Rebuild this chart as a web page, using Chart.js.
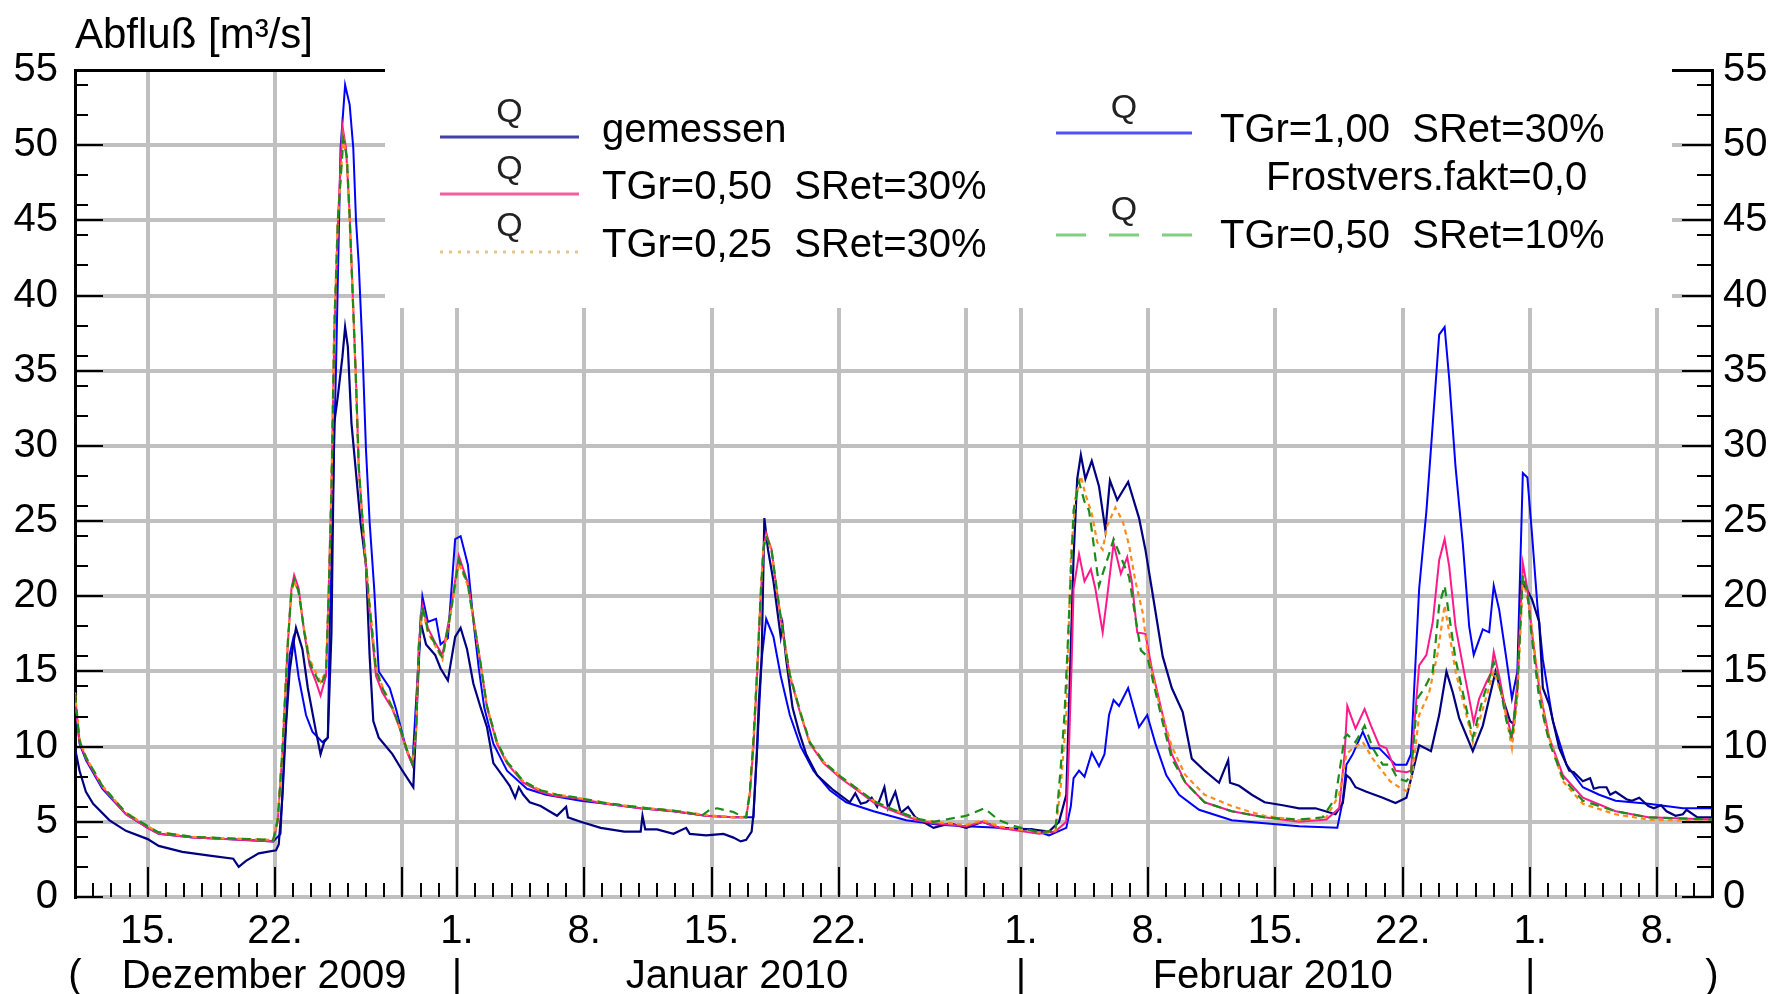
<!DOCTYPE html>
<html>
<head>
<meta charset="utf-8">
<script src="https://cdn.jsdelivr.net/npm/chart.js"></script>
<style>
  html, body { margin: 0; padding: 0; background: #fff; }
  canvas { display: block; }
</style>
</head>
<body>
<canvas id="abfluss" width="1780" height="994"></canvas>
<script>
// x = Tage seit 1. Dezember 2009 (10 = 11. Dez., 31 = 1. Jan., 62 = 1. Feb., 90 = 1. Mär.)
const gridDays = [14, 21, 28, 31, 38, 45, 52, 59, 62, 69, 76, 83, 90, 97];
const dayLabels = ['15.', '22.', '', '1.', '8.', '15.', '22.', '', '1.', '8.', '15.', '22.', '1.', '8.'];
const monthPos = [10, 20.4, 31, 46.4, 62, 75.85, 90, 100];
const monthLabels = ['(', 'Dezember 2009', '|', 'Januar 2010', '|', 'Februar 2010', '|', ')'];
const yTicks = [0, 5, 10, 15, 20, 25, 30, 35, 40, 45, 50, 55];

const legendLabels = ['gemessen', 'TGr=0,50  SRet=30%', 'TGr=0,25  SRet=30%', 'TGr=1,00  SRet=30%', 'TGr=0,50  SRet=10%'];
const legendNote = 'Frostvers.fakt=0,0';

const gemessen = [
  [10.0, 9.9], [10.25, 8.4], [10.6, 7.0], [11.0, 6.2], [11.9, 5.1], [12.8, 4.4], [14.0, 3.85], [14.6, 3.4],
  [15.9, 3.0], [17.4, 2.75], [18.7, 2.55], [19.0, 2.0], [19.4, 2.4], [20.1, 2.9], [21.05, 3.1], [21.2, 3.5],
  [21.4, 6.6], [21.6, 11.4], [21.8, 15.0], [22.0, 16.8], [22.15, 17.9], [22.5, 16.5], [22.8, 13.9], [23.25, 11.0],
  [23.5, 9.5], [23.7, 10.3], [23.9, 10.6], [24.1, 17.6], [24.25, 31.5], [24.45, 33.3], [24.7, 35.9], [24.85, 37.9],
  [25.0, 36.6], [25.2, 31.5], [25.45, 28.2], [25.7, 24.9], [26.0, 22.0], [26.2, 16.0], [26.4, 11.7], [26.7, 10.6],
  [27.45, 9.5], [28.0, 8.4], [28.6, 7.3], [28.75, 11.4], [29.0, 18.3], [29.3, 16.8], [29.8, 16.1], [30.1, 15.2],
  [30.5, 14.4], [30.9, 17.3], [31.2, 17.9], [31.55, 16.5], [31.9, 14.2], [32.3, 12.6], [32.65, 11.3], [33.0, 8.9],
  [33.6, 7.9], [33.9, 7.4], [34.2, 6.6], [34.4, 7.3], [34.65, 6.8], [35.0, 6.3], [35.6, 6.05], [36.5, 5.4],
  [37.0, 6.0], [37.1, 5.3], [37.8, 5.0], [38.9, 4.6], [40.2, 4.35], [41.1, 4.35], [41.2, 5.4], [41.35, 4.5],
  [42.0, 4.5], [42.9, 4.2], [43.6, 4.6], [43.8, 4.2], [44.7, 4.1], [45.65, 4.2], [46.2, 3.95], [46.6, 3.7],
  [46.9, 3.8], [47.2, 4.35], [47.3, 5.5], [47.5, 10.0], [47.6, 13.1], [47.75, 15.8], [47.9, 25.2], [48.1, 23.1],
  [48.4, 21.0], [48.8, 17.3], [48.9, 18.1], [49.1, 15.8], [49.45, 12.6], [49.8, 11.0], [50.2, 9.5], [50.8, 8.1],
  [51.7, 7.1], [52.6, 6.3], [52.9, 6.9], [53.2, 6.2], [53.5, 6.3], [53.8, 6.6], [54.1, 6.0], [54.5, 7.3],
  [54.7, 5.9], [55.1, 7.0], [55.4, 5.6], [55.8, 6.0], [56.2, 5.3],
  [57.2, 4.6], [58.1, 4.9], [59.0, 4.6], [59.9, 5.0], [60.8, 4.6], [61.7, 4.5], [62.6, 4.5], [63.55, 4.35],
  [64.1, 5.0], [64.5, 6.8], [64.7, 14.7], [64.9, 22.6], [65.1, 27.8], [65.3, 29.4], [65.55, 27.8], [65.9, 29.0],
  [66.3, 27.3], [66.65, 24.4], [66.9, 27.7], [67.3, 26.4], [67.9, 27.6], [68.5, 25.2], [68.85, 23.1], [69.2, 20.5],
  [69.8, 16.0], [70.3, 13.9], [70.9, 12.3], [71.4, 9.2], [72.1, 8.4], [72.9, 7.6], [73.4, 9.1], [73.5, 7.6],
  [74.0, 7.4], [74.7, 6.8], [75.4, 6.3], [76.4, 6.1], [77.3, 5.9], [78.2, 5.9], [79.3, 5.5], [79.7, 6.25],
  [79.9, 8.1], [80.1, 7.9], [80.4, 7.3], [81.0, 7.0], [81.9, 6.6], [82.6, 6.25], [83.2, 6.6], [83.5, 8.1],
  [83.9, 10.1], [84.55, 9.7], [85.0, 12.1], [85.4, 15.0], [85.75, 13.6], [86.1, 11.9], [86.85, 9.7], [87.4, 11.4],
  [87.75, 13.2], [88.1, 15.0], [88.5, 13.2], [88.9, 11.7], [89.1, 11.5], [89.3, 13.9], [89.5, 20.9], [89.8, 20.5],
  [90.1, 19.8], [90.5, 18.3], [90.7, 13.9], [91.05, 12.8], [91.6, 9.9], [92.15, 8.4], [92.4, 8.3], [92.9, 7.7],
  [93.3, 7.9], [93.5, 7.2], [93.8, 7.3], [94.2, 7.3], [94.4, 6.8], [94.7, 7.0], [95.3, 6.5], [95.6, 6.4],
  [96.0, 6.6], [96.5, 6.05], [96.8, 5.9], [97.2, 6.1], [97.5, 5.7], [98.0, 5.4], [98.4, 5.5], [98.6, 5.8],
  [99.2, 5.3], [100, 5.3]
];

const tgr050sret30 = [
  [10.0, 13.4], [10.25, 10.3], [10.6, 9.2], [11.5, 7.3], [12.8, 5.5], [14.0, 4.6], [14.6, 4.2], [16.5, 3.95],
  [18.3, 3.85], [20.9, 3.7], [21.15, 5.1], [21.4, 9.5], [21.7, 16.8], [21.9, 20.5], [22.05, 21.4], [22.3, 20.5],
  [22.6, 17.6], [22.9, 15.4], [23.25, 14.3], [23.5, 13.4], [23.8, 14.7], [23.95, 20.5], [24.1, 27.1], [24.25, 37.0],
  [24.45, 44.7], [24.7, 51.3], [24.9, 49.8], [25.1, 45.4], [25.25, 40.7], [25.45, 34.4], [25.6, 28.6], [25.9, 23.4],
  [26.2, 19.0], [26.55, 14.7], [26.9, 13.6], [27.45, 12.5], [27.8, 11.4], [28.3, 9.5], [28.55, 8.8], [28.75, 11.0],
  [28.9, 16.8], [29.1, 19.4], [29.4, 17.9], [29.85, 16.8], [30.2, 16.1], [30.65, 19.0], [31.1, 22.7], [31.6, 20.9],
  [31.9, 18.6], [32.3, 15.5], [32.65, 12.6], [33.2, 10.2], [33.75, 8.9], [34.65, 7.6], [35.6, 7.0], [36.5, 6.7],
  [37.4, 6.6], [39.2, 6.2], [41.1, 5.9], [42.9, 5.7], [44.7, 5.4], [46.2, 5.3], [46.9, 5.3], [47.1, 6.8],
  [47.3, 10.0], [47.5, 14.7], [47.7, 20.0], [47.85, 23.1], [48.0, 24.2], [48.3, 23.1], [48.6, 20.2], [48.95, 17.3],
  [49.3, 14.7], [49.9, 12.1], [50.4, 10.2], [51.15, 8.9], [52.1, 7.9], [53.0, 7.1], [53.9, 6.3], [54.8, 5.8],
  [56.3, 5.1], [57.2, 4.9], [59.0, 4.7], [59.9, 5.0], [60.8, 4.6], [63.0, 4.2], [63.9, 4.35], [64.5, 5.0],
  [64.65, 10.0], [64.8, 15.8], [64.9, 20.5], [65.2, 22.8], [65.5, 21.0], [65.85, 21.8], [66.1, 20.5], [66.5, 17.6],
  [66.75, 20.0], [67.1, 23.5], [67.5, 21.5], [67.85, 22.6], [68.1, 21.0], [68.4, 17.6], [68.85, 17.5], [69.2, 15.2],
  [69.8, 12.1], [70.3, 9.5], [71.05, 7.6], [72.1, 6.3], [73.6, 5.7], [75.4, 5.3], [77.3, 5.0], [78.8, 5.15],
  [79.5, 5.9], [79.8, 9.5], [79.95, 12.7], [80.25, 11.7], [80.4, 11.2], [80.9, 12.5], [81.25, 11.4], [81.7, 10.1],
  [82.1, 9.9], [82.6, 8.4], [83.2, 8.3], [83.45, 8.4], [83.6, 11.0], [83.9, 15.4], [84.3, 16.1], [84.65, 18.3],
  [85.0, 22.4], [85.3, 23.8], [85.55, 22.0], [85.9, 18.0], [86.3, 15.4], [86.65, 13.2], [86.9, 11.6], [87.2, 13.2],
  [87.6, 14.3], [87.85, 14.9], [88.0, 16.3], [88.3, 14.7], [88.7, 12.1], [89.0, 10.6], [89.3, 14.3], [89.6, 22.2],
  [89.85, 20.5], [90.1, 17.6], [90.5, 13.9], [91.05, 10.6], [91.8, 8.1], [92.9, 6.6], [94.7, 5.7], [96.5, 5.3],
  [100, 5.15]
];

const tgr025sret30 = [
  [10.0, 13.6], [10.25, 10.5], [10.6, 9.3], [11.5, 7.4], [12.8, 5.6], [14.0, 4.7], [14.6, 4.3], [16.5, 4.0],
  [18.3, 3.9], [20.9, 3.8], [21.15, 5.3], [21.4, 9.8], [21.7, 17.0], [21.9, 20.3], [22.05, 21.0], [22.3, 20.2],
  [22.6, 17.8], [22.9, 15.8], [23.25, 14.9], [23.5, 14.3], [23.8, 15.0], [23.95, 20.0], [24.1, 27.5], [24.25, 38.0],
  [24.45, 45.0], [24.75, 50.5], [24.95, 49.0], [25.1, 45.0], [25.25, 40.5], [25.45, 34.0], [25.6, 28.5], [25.9, 23.5],
  [26.2, 19.5], [26.55, 15.3], [26.9, 14.0], [27.45, 12.6], [27.8, 11.5], [28.3, 9.6], [28.55, 8.9], [28.75, 11.0],
  [28.9, 16.5], [29.1, 19.2], [29.4, 17.6], [29.85, 16.6], [30.2, 15.8], [30.65, 18.8], [31.1, 22.2], [31.6, 20.7],
  [31.9, 18.5], [32.3, 15.5], [32.65, 12.7], [33.2, 10.3], [33.75, 9.0], [34.65, 7.7], [35.6, 7.1], [36.5, 6.8],
  [37.4, 6.65], [39.2, 6.25], [41.1, 5.95], [42.9, 5.75], [44.7, 5.45], [46.2, 5.3], [46.9, 5.3], [47.1, 7.0],
  [47.3, 10.5], [47.5, 15.0], [47.7, 20.3], [47.85, 23.3], [48.0, 24.0], [48.3, 23.0], [48.6, 20.3], [48.95, 17.4],
  [49.3, 14.8], [49.9, 12.2], [50.4, 10.3], [51.15, 9.0], [52.1, 8.0], [53.0, 7.2], [53.9, 6.4], [54.8, 5.9],
  [56.3, 5.2], [57.2, 5.0], [59.0, 4.8], [59.9, 5.1], [60.8, 4.7], [63.0, 4.3], [63.9, 4.4], [64.2, 7.4],
  [64.5, 12.1], [64.75, 22.6], [65.0, 26.5], [65.3, 28.0], [65.55, 26.8], [65.9, 25.5], [66.2, 23.6], [66.5, 23.1],
  [66.75, 24.7], [67.2, 25.9], [67.6, 25.0], [67.95, 23.4], [68.3, 21.0], [68.7, 18.9], [69.0, 16.0], [69.6, 12.9],
  [70.3, 10.0], [71.05, 8.1], [72.1, 6.8], [73.6, 6.05], [74.5, 5.7], [75.4, 5.4], [77.3, 5.1], [78.8, 5.3],
  [79.5, 6.8], [79.9, 9.5], [80.25, 9.9], [80.8, 10.3], [81.35, 9.2], [82.3, 7.7], [82.8, 7.3], [83.3, 7.0],
  [83.55, 8.4], [83.9, 12.1], [84.45, 13.6], [84.9, 16.1], [85.3, 19.4], [85.55, 17.6], [85.9, 15.0], [86.5, 12.1],
  [86.85, 10.3], [87.4, 12.5], [88.0, 15.0], [88.5, 13.2], [89.0, 9.9], [89.3, 13.2], [89.6, 21.1], [89.95, 19.4],
  [90.3, 15.8], [90.85, 11.4], [91.8, 7.7], [92.9, 6.2], [94.7, 5.5], [96.5, 5.15], [100, 5.0]
];

const tgr100sret30 = [
  [10.0, 13.0], [10.25, 10.2], [10.6, 9.1], [11.5, 7.2], [12.8, 5.5], [14.0, 4.6], [14.6, 4.2], [16.5, 3.95],
  [18.3, 3.85], [20.9, 3.7], [21.3, 4.2], [21.5, 9.5], [21.8, 16.1], [22.0, 17.2], [22.3, 14.6], [22.7, 12.1],
  [23.05, 11.0], [23.6, 10.3], [23.9, 10.6], [24.0, 17.6], [24.35, 35.2], [24.6, 49.8], [24.85, 54.0], [25.1, 52.7],
  [25.3, 49.8], [25.45, 45.0], [25.6, 42.1], [25.8, 36.6], [26.0, 29.7], [26.2, 24.9], [26.45, 20.5], [26.7, 15.0],
  [27.3, 13.9], [27.65, 12.5], [28.2, 9.9], [28.55, 8.8], [28.85, 15.0], [29.1, 20.0], [29.4, 18.3], [29.85, 18.5],
  [30.1, 16.8], [30.5, 17.2], [30.9, 23.8], [31.2, 24.0], [31.6, 22.1], [31.9, 18.4], [32.2, 15.2], [32.5, 12.6],
  [33.0, 10.2], [33.75, 8.4], [34.85, 7.2], [35.9, 6.8], [37.8, 6.4], [39.2, 6.2], [41.1, 5.9], [42.9, 5.7],
  [44.7, 5.4], [46.2, 5.3], [47.3, 5.3], [47.5, 9.7], [47.75, 15.8], [48.0, 18.5], [48.4, 17.3], [48.8, 14.7],
  [49.3, 12.1], [49.9, 10.0], [50.6, 8.4], [51.5, 7.1], [52.4, 6.3], [53.9, 5.7], [55.7, 5.1], [57.5, 4.8],
  [59.0, 4.7], [62.6, 4.5], [63.55, 4.1], [64.5, 4.6], [64.75, 6.05], [64.9, 7.9], [65.2, 8.4], [65.5, 8.0],
  [65.9, 9.6], [66.3, 8.7], [66.6, 9.5], [66.85, 12.1], [67.1, 13.1], [67.4, 12.7], [67.9, 13.9], [68.5, 11.3],
  [68.95, 12.1], [69.4, 10.2], [70.0, 8.1], [70.7, 6.8], [71.8, 5.8], [73.6, 5.1], [75.4, 4.9], [77.3, 4.7],
  [79.4, 4.6], [79.7, 6.4], [79.9, 8.8], [80.25, 9.5], [80.8, 11.0], [81.2, 9.9], [81.7, 9.9], [82.6, 8.8],
  [83.2, 8.8], [83.45, 9.5], [83.6, 13.2], [83.9, 20.5], [84.3, 25.7], [84.65, 31.5], [85.0, 37.4], [85.3, 37.9],
  [85.55, 34.5], [85.9, 28.6], [86.3, 23.5], [86.65, 18.0], [86.9, 16.1], [87.4, 17.8], [87.75, 17.6], [88.0, 20.7],
  [88.3, 19.1], [88.7, 15.8], [89.0, 13.2], [89.3, 15.0], [89.6, 28.2], [89.85, 27.9], [90.1, 24.2], [90.4, 19.4],
  [90.7, 15.8], [91.25, 11.7], [92.0, 8.8], [92.9, 7.3], [93.8, 6.8], [94.7, 6.4], [96.5, 6.2], [98.4, 5.9],
  [100, 5.9]
];

const tgr050sret10 = [
  [10.0, 13.5], [10.25, 10.4], [10.6, 9.3], [11.5, 7.4], [12.8, 5.6], [14.0, 4.7], [14.6, 4.3], [16.5, 4.0],
  [18.3, 3.9], [20.9, 3.8], [21.15, 5.2], [21.4, 9.7], [21.7, 16.9], [21.9, 20.4], [22.05, 21.1], [22.3, 20.3],
  [22.6, 17.7], [22.9, 15.6], [23.25, 14.7], [23.5, 14.1], [23.8, 14.9], [23.95, 20.2], [24.1, 27.3], [24.25, 37.5],
  [24.45, 45.0], [24.75, 50.4], [24.95, 49.2], [25.1, 45.2], [25.25, 40.6], [25.45, 34.2], [25.6, 28.6], [25.9, 23.5],
  [26.2, 19.3], [26.55, 15.1], [26.9, 13.9], [27.45, 12.6], [27.8, 11.5], [28.3, 9.6], [28.55, 8.9], [28.75, 11.0],
  [28.9, 16.6], [29.1, 19.3], [29.4, 17.7], [29.85, 16.7], [30.2, 15.9], [30.65, 18.9], [31.1, 22.4], [31.6, 20.8],
  [31.9, 18.5], [32.3, 15.5], [32.65, 12.7], [33.2, 10.3], [33.75, 9.0], [34.65, 7.7], [35.6, 7.1], [36.5, 6.8],
  [37.4, 6.65], [39.2, 6.25], [41.1, 5.95], [42.9, 5.75], [44.5, 5.45], [44.9, 5.8], [45.3, 5.9], [46.2, 5.65],
  [46.6, 5.4], [46.9, 5.3], [47.1, 7.0], [47.3, 10.4], [47.5, 15.0], [47.7, 20.2], [47.85, 23.2], [48.0, 24.0],
  [48.3, 23.0], [48.6, 20.3], [48.95, 17.4], [49.3, 14.8], [49.9, 12.2], [50.4, 10.3], [51.15, 9.0], [52.1, 8.0],
  [53.0, 7.2], [53.9, 6.4], [54.8, 5.9], [56.3, 5.2], [57.2, 5.0], [59.0, 5.4], [60.0, 5.9], [60.8, 5.1],
  [61.7, 4.7], [63.0, 4.3], [63.9, 4.4], [64.2, 8.7], [64.4, 12.1], [64.55, 16.0], [64.75, 21.5], [64.9, 25.7],
  [65.2, 27.6], [65.5, 26.3], [65.75, 25.7], [65.9, 24.4], [66.3, 20.7], [66.5, 21.5], [66.85, 22.8], [67.1, 23.8],
  [67.5, 22.6], [67.95, 21.3], [68.3, 18.6], [68.6, 16.4], [68.95, 16.0], [69.2, 14.7], [69.8, 11.6], [70.3, 9.2],
  [71.05, 7.6], [72.1, 6.3], [73.6, 5.7], [75.4, 5.3], [77.3, 5.15], [78.6, 5.3], [79.3, 6.6], [79.8, 10.6],
  [79.95, 10.8], [80.4, 10.3], [80.9, 11.4], [81.35, 9.9], [81.9, 8.8], [82.3, 8.8], [82.7, 7.9], [83.2, 7.7],
  [83.45, 8.1], [83.6, 10.3], [83.8, 13.2], [84.2, 13.9], [84.65, 15.0], [85.0, 19.4], [85.3, 20.7], [85.55, 18.7],
  [85.9, 15.8], [86.5, 12.5], [86.85, 10.6], [87.4, 13.2], [87.75, 14.5], [88.0, 15.6], [88.3, 14.3], [88.7, 11.7],
  [89.0, 10.5], [89.3, 13.9], [89.6, 21.4], [89.85, 20.2], [90.1, 17.2], [90.5, 13.2], [91.05, 10.3], [91.8, 7.9],
  [92.9, 6.4], [94.7, 5.7], [96.5, 5.3], [100, 5.15]
];

const FONT = "'Liberation Sans', Arial, sans-serif";

function linie(label, data, color, width, dash, order) {
  return {
    label: label, data: data, borderColor: color, borderWidth: width, borderDash: dash,
    pointRadius: 0, tension: 0, fill: false, order: order, xAxisID: 'x', yAxisID: 'y'
  };
}

// Legende, Achsentitel und kleine Achsenstriche
const beiwerk = {
  id: 'beiwerk',
  beforeDatasetsDraw(chart) {
    const ctx = chart.ctx;
    ctx.save();
    ctx.fillStyle = '#fff';
    ctx.fillRect(385, 20, 1672 - 385, 308 - 20);
    ctx.restore();
  },
  afterDraw(chart) {
    const { ctx, chartArea: a } = chart;
    const x = chart.scales.x, y = chart.scales.y;
    ctx.save();

    // Striche an den y-Achsen
    ctx.strokeStyle = '#000';
    ctx.lineWidth = 2;
    ctx.beginPath();
    for (let v = 0; v <= 55; v++) {
      if (v % 5 !== 0 && v % 2 !== 0) continue;
      const len = v % 5 === 0 ? 28 : 13;
      const py = Math.round(y.getPixelForValue(v));
      ctx.moveTo(a.left, py); ctx.lineTo(a.left + len, py);
      ctx.moveTo(a.right, py); ctx.lineTo(a.right - len - 2, py);
    }
    // Tagesstriche an der x-Achse
    for (let d = 11; d < 100; d++) {
      const len = gridDays.includes(d) ? 30 : 14;
      const px = Math.round(x.getPixelForValue(d));
      ctx.moveTo(px, a.bottom); ctx.lineTo(px, a.bottom - len);
    }
    ctx.stroke();

    // Achsentitel
    ctx.fillStyle = '#000';
    ctx.font = '42px ' + FONT;
    ctx.textBaseline = 'alphabetic';
    ctx.textAlign = 'left';
    ctx.fillText('Abfluß [m³/s]', a.left, 48);

    // Legende
    const eintraege = [
      { x0: 440, x1: 579, ly: 137, qy: 113, tx: 602, ty: 131, color: '#4040a8', dash: [] },
      { x0: 440, x1: 579, ly: 194, qy: 170, tx: 602, ty: 188, color: '#f0609f', dash: [] },
      { x0: 440, x1: 579, ly: 252, qy: 227, tx: 602, ty: 246, color: '#e6c48c', dash: [3, 6] },
      { x0: 1056, x1: 1192, ly: 133, qy: 109, tx: 1220, ty: 131, color: '#5050ff', dash: [] },
      { x0: 1056, x1: 1192, ly: 235, qy: 211, tx: 1220, ty: 237, color: '#80d080', dash: [30, 23] }
    ];
    eintraege.forEach((e, i) => {
      ctx.strokeStyle = e.color;
      ctx.lineWidth = 3;
      ctx.setLineDash(e.dash);
      ctx.beginPath();
      ctx.moveTo(e.x0, e.ly); ctx.lineTo(e.x1, e.ly);
      ctx.stroke();
      ctx.setLineDash([]);
      ctx.fillStyle = '#222';
      ctx.font = '34px ' + FONT;
      ctx.textAlign = 'center';
      ctx.textBaseline = 'middle';
      ctx.fillText('Q', (e.x0 + e.x1) / 2, e.qy);
      ctx.fillStyle = '#000';
      ctx.font = '40px ' + FONT;
      ctx.textAlign = 'left';
      ctx.fillText(legendLabels[i], e.tx, e.ty);
    });
    ctx.fillText(legendNote, 1266, 179);

    ctx.restore();
  }
};

new Chart(document.getElementById('abfluss').getContext('2d'), {
  type: 'line',
  data: {
    datasets: [
      linie(legendLabels[0], gemessen, '#000080', 2.2, [], 4),
      linie(legendLabels[1], tgr050sret30, '#ff1a8c', 2, [], 3),
      linie(legendLabels[2], tgr025sret30, '#ff8c1a', 2.2, [5, 4], 2),
      linie(legendLabels[3], tgr100sret30, '#0000ff', 2, [], 5),
      linie(legendLabels[4], tgr050sret10, '#1a8c1a', 2.2, [9, 6], 1)
    ]
  },
  options: {
    responsive: false,
    devicePixelRatio: 1,
    animation: false,
    layout: { padding: { top: 70, left: 0, right: 0, bottom: 0 } },
    font: { family: FONT },
    plugins: {
      legend: { display: false },
      tooltip: { enabled: false },
      title: { display: false }
    },
    scales: {
      x: {
        type: 'linear', position: 'bottom', min: 10, max: 100, weight: 0,
        afterBuildTicks: ax => { ax.ticks = gridDays.map(v => ({ value: v })); },
        afterFit: ax => { ax.height = 56; },
        ticks: {
          autoSkip: false, maxRotation: 0, minRotation: 0, padding: 11, color: '#000',
          font: { family: FONT, size: 40 },
          callback: (v, i) => dayLabels[i]
        },
        grid: { color: '#c0c0c0', lineWidth: 4, drawTicks: false },
        border: { display: false }
      },
      x2: {
        type: 'linear', position: 'bottom', min: 10, max: 100, weight: 1,
        afterBuildTicks: ax => { ax.ticks = monthPos.map(v => ({ value: v })); },
        afterFit: ax => { ax.height = 41; },
        ticks: {
          autoSkip: false, maxRotation: 0, minRotation: 0, padding: 0, color: '#000',
          font: { family: FONT, size: 40 },
          callback: (v, i) => monthLabels[i]
        },
        grid: { display: false, drawTicks: false },
        border: { display: false }
      },
      y: {
        position: 'left', min: 0, max: 55,
        afterBuildTicks: ax => { ax.ticks = yTicks.map(v => ({ value: v })); },
        afterFit: ax => { ax.width = 75; },
        ticks: { padding: 17, color: '#000', font: { family: FONT, size: 40 } },
        grid: {
          color: c => (c.tick && c.tick.value === 55) ? '#000' : '#c0c0c0',
          lineWidth: c => (c.tick && c.tick.value === 55) ? 3 : 4,
          drawTicks: false
        },
        border: { color: '#000', width: 3 }
      },
      y2: {
        position: 'right', min: 0, max: 55,
        afterBuildTicks: ax => { ax.ticks = yTicks.map(v => ({ value: v })); },
        afterFit: ax => { ax.width = 68; },
        ticks: { padding: 11, color: '#000', font: { family: FONT, size: 40 } },
        grid: { display: false, drawTicks: false },
        border: { color: '#000', width: 3 }
      }
    }
  },
  plugins: [beiwerk]
});
</script>
</body>
</html>
